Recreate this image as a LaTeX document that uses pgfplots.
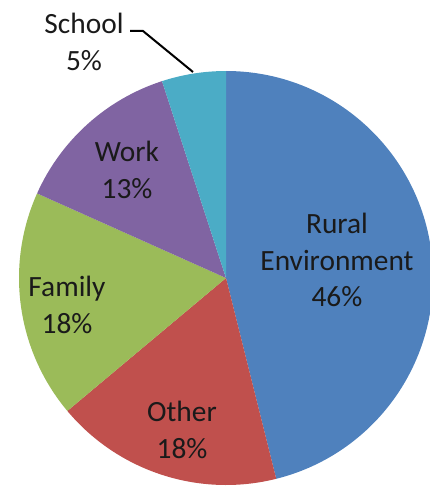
\documentclass[border=0pt]{standalone}
\usepackage{pgfplots}
\usepackage{pgfplotstable}
\pgfplotsset{compat=1.18}
\usepackage{fontspec}
\setmainfont{Carlito}
\definecolor{cRural}{HTML}{4F81BD}
\definecolor{cOther}{HTML}{C0504D}
\definecolor{cFamily}{HTML}{9BBB59}
\definecolor{cWork}{HTML}{8064A2}
\definecolor{cSchool}{HTML}{4BACC6}
\definecolor{txt}{HTML}{1A1A1A}
\pgfplotstableread{
label value
Rural 46.1
Other 17.8
Family 17.8
Work 13.3
School 5.0
}\piedata
\begin{document}
\begin{tikzpicture}
\pgfplotstablegetelem{0}{value}\of\piedata \let\vA\pgfplotsretval
\pgfplotstablegetelem{1}{value}\of\piedata \let\vB\pgfplotsretval
\pgfplotstablegetelem{2}{value}\of\piedata \let\vC\pgfplotsretval
\pgfplotstablegetelem{3}{value}\of\piedata \let\vD\pgfplotsretval
\pgfplotstablegetelem{4}{value}\of\piedata \let\vE\pgfplotsretval
\pgfmathsetmacro{\aO}{90}
\pgfmathsetmacro{\aA}{\aO-3.6*\vA}
\pgfmathsetmacro{\aB}{\aA-3.6*\vB}
\pgfmathsetmacro{\aC}{\aB-3.6*\vC}
\pgfmathsetmacro{\aD}{\aC-3.6*\vD}
\pgfmathsetmacro{\aE}{\aD-3.6*\vE}
\useasboundingbox (0,0) rectangle (430bp,489bp);
\clip (0,0) rectangle (430bp,489bp);
\begin{axis}[at={(0,0)}, anchor=south west, x=1bp, y=1bp,
  xmin=-226, xmax=204, ymin=-211, ymax=278, enlargelimits=false,
  hide axis, clip=false]
\def\R{207}
\fill[cRural] (axis cs:0,0) -- (axis cs:{\R*cos(\aO)},{\R*sin(\aO)}) arc[start angle=\aO, end angle=\aA, radius=207bp] -- cycle;
\fill[cOther] (axis cs:0,0) -- (axis cs:{\R*cos(\aA)},{\R*sin(\aA)}) arc[start angle=\aA, end angle=\aB, radius=207bp] -- cycle;
\fill[cFamily] (axis cs:0,0) -- (axis cs:{\R*cos(\aB)},{\R*sin(\aB)}) arc[start angle=\aB, end angle=\aC, radius=207bp] -- cycle;
\fill[cWork] (axis cs:0,0) -- (axis cs:{\R*cos(\aC)},{\R*sin(\aC)}) arc[start angle=\aC, end angle=\aD, radius=207bp] -- cycle;
\fill[cSchool] (axis cs:0,0) -- (axis cs:{\R*cos(\aD)},{\R*sin(\aD)}) arc[start angle=\aD, end angle=\aE, radius=207bp] -- cycle;
\begin{scope}[every node/.style={text=txt, align=center, font=\fontsize{29.5}{37}\selectfont, inner sep=0pt}]
\node at (axis cs:111,18) {Rural\\Environment\\46\%};
\node at (axis cs:-99,108) {Work\\13\%};
\node at (axis cs:-159,-27) {Family\\18\%};
\node at (axis cs:-44,-152) {Other\\18\%};
\node at (axis cs:-142,236) {School\\5\%};
\end{scope}
\draw[black, line width=2bp] (axis cs:-96,247) -- (axis cs:-83,247) -- (axis cs:-33,206);
\end{axis}
\end{tikzpicture}
\end{document}
